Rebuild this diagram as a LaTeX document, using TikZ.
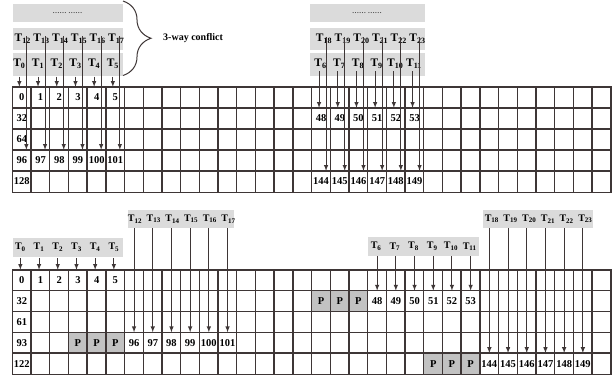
\documentclass[tikz,border=0pt]{standalone}
\usepackage{fontspec}
\setmainfont{Liberation Serif}
\usepackage{tikz}
\usetikzlibrary{arrows, decorations.pathreplacing, positioning}

\definecolor{fond}{gray}{0.86}
\definecolor{remplissage}{gray}{0.76}
\definecolor{trait}{RGB}{62,54,54}

\tikzset{
  case/.style={minimum width=18.7pt, minimum height=#1, inner sep=0pt},
  grille/.style={draw=trait, line width=1.4pt, line cap=rect},
  nombre/.style={font=\fontsize{10.5}{12}\selectfont\bfseries, inner sep=0pt},
  tgrand/.style={font=\fontsize{11.5}{13}\selectfont\bfseries, inner sep=0pt, minimum height=22pt},
  tpetit/.style={font=\fontsize{10}{12}\selectfont\bfseries, inner sep=0pt, minimum height=#1},
  points/.style={font=\fontsize{7}{8}\selectfont\bfseries, text=black!75, inner sep=0pt},
  fleche/.style={-latex, draw=trait, line width=1pt},
}

\begin{document}
\begin{tikzpicture}[x=1pt, y=-1pt]
        % Fond
        \fill[white] (0,0) rectangle (616,376);

        % Cases des deux grilles (h = haut, b = bas)
        \foreach \r in {0,...,4}
          \foreach \c in {0,...,31} {
            \node[case=21pt] (h-\r-\c) at ({21.85+18.7*\c}, {97.5+21*\r}) {};
            \node[case=20.8pt] (b-\r-\c) at ({21.85+18.7*\c}, {280.4+20.8*\r}) {};
          }
        % Remplissage P
        \foreach \r/\c in {1/16,1/17,1/18,3/3,3/4,3/5,4/22,4/23,4/24} {
          \fill[remplissage] (b-\r-\c.north west) rectangle (b-\r-\c.south east);
          \node[nombre] at (b-\r-\c) {P};
        }
        % Traits de la grille
        \foreach \g in {h,b} {
          \foreach \c in {0,...,31} \draw[grille] (\g-0-\c.north west) -- (\g-4-\c.south west);
          \draw[grille] (\g-0-31.north east) -- (\g-4-31.south east);
          \foreach \r in {0,...,4} \draw[grille] (\g-\r-0.north west) -- (\g-\r-31.north east);
          \draw[grille] (\g-4-0.south west) -- (\g-4-31.south east);
        }

        % Contenu des cases
        \foreach \r/\t in {1/32,2/64,4/128} \node[nombre] at (h-\r-0) {\t};
        \foreach \r/\t in {1/32,2/61,3/93,4/122} \node[nombre] at (b-\r-0) {\t};
        \foreach \c in {0,...,5} {
          \pgfmathtruncatemacro\colh{16+\c}
          \pgfmathtruncatemacro\colj{19+\c}
          \pgfmathtruncatemacro\colk{6+\c}
          \pgfmathtruncatemacro\coll{25+\c}
          \pgfmathtruncatemacro\numa{48+\c}
          \pgfmathtruncatemacro\numb{96+\c}
          \pgfmathtruncatemacro\numc{144+\c}
          \node[nombre] at (h-0-\c) {\c};
          \node[nombre] at (h-1-\colh) {\numa};
          \node[nombre] at (h-3-\c) {\numb};
          \node[nombre] at (h-4-\colh) {\numc};
          \node[nombre] at (b-0-\c) {\c};
          \node[nombre] at (b-1-\colj) {\numa};
          \node[nombre] at (b-3-\colk) {\numb};
          \node[nombre] at (b-4-\coll) {\numc};
        }

        % Boites des threads
        \fill[fond] (12.5,3.5) rectangle (122.5,22);
        \fill[fond] (12.5,28) rectangle (122.5,50);
        \fill[fond] (12.5,53) rectangle (122.5,75.5);
        \fill[fond] (310,3.5) rectangle (424.5,22);
        \fill[fond] (310,28) rectangle (424.5,50);
        \fill[fond] (310,53) rectangle (424.5,75.5);
        \fill[fond] (12.5,238) rectangle (122.5,256.5);
        \fill[fond] (128,210) rectangle (233.5,228);
        \fill[fond] (368,237) rectangle (478.5,256);
        \fill[fond] (482.5,210) rectangle (593,228);
        \node[points] (p1) at (67.5,13) {…… ……};
        \node[points] (p2) at (367,13) {…… ……};

        % Threads et acces memoire
        \foreach \c in {0,...,5} {
          \pgfmathtruncatemacro\ta{12+\c}
          \pgfmathtruncatemacro\tb{18+\c}
          \pgfmathtruncatemacro\tc{6+\c}
          \pgfmathtruncatemacro\colh{16+\c}
          \pgfmathtruncatemacro\colj{19+\c}
          \pgfmathtruncatemacro\colk{6+\c}
          \pgfmathtruncatemacro\coll{25+\c}
          % haut
          \node[tgrand, xshift=-2.5pt] (hT\c) at (h-0-\c |- 0,64) {T\textsubscript{\c}};
          \node[tgrand, xshift=1pt] (hT\ta) at (h-0-\c |- 0,39) {T\textsubscript{\ta}};
          \node[tgrand, xshift=-0.5pt] (hT\tc) at (h-0-\colh |- 0,64) {T\textsubscript{\tc}};
          \node[tgrand, xshift=3pt] (hT\tb) at (h-0-\colh |- 0,39) {T\textsubscript{\tb}};
          \draw[fleche] ([yshift=-1.5pt]hT\c.south) -- ([xshift=-2.5pt]h-0-\c.north);
          \draw[fleche] ([xshift=3.5pt, yshift=3pt]hT\ta.center) -- ([xshift=4.5pt]h-3-\c.north);
          \draw[fleche] ([xshift=-1.5pt, yshift=4pt]hT\tc.south) -- ([xshift=-2pt]h-1-\colh.north);
          \draw[fleche] ([xshift=2pt, yshift=2pt]hT\tb.center) -- ([xshift=5pt]h-4-\colh.north);
          % bas
          \node[tpetit=18.5pt, xshift=-1.5pt] (bT\c) at (b-0-\c |- 0,247.25) {T\textsubscript{\c}};
          \node[tpetit=18pt, xshift=1pt] (bT\ta) at (b-0-\colk |- 0,219) {T\textsubscript{\ta}};
          \node[tpetit=19pt, xshift=-1pt] (bT\tc) at (b-0-\colj |- 0,246.5) {T\textsubscript{\tc}};
          \node[tpetit=18pt, xshift=2.5pt] (bT\tb) at (b-0-\coll |- 0,219) {T\textsubscript{\tb}};
          \draw[fleche] ([yshift=-1.5pt]bT\c.south) -- ([xshift=-1.5pt]b-0-\c.north);
          \draw[fleche] ([xshift=-1pt]bT\ta.south) -- (b-3-\colk.north);
          \draw[fleche] ([xshift=1pt]bT\tc.south) -- (b-1-\colj.north);
          \draw[fleche] ([xshift=-2.5pt]bT\tb.south) -- (b-4-\coll.north);
        }

        % Accolade
        \draw[decorate, decoration={brace, amplitude=28pt}, trait, line width=1pt] (123,1) -- (123,75.5);
        \coordinate (pointe) at (151,38);
        \node[font=\fontsize{10}{12}\selectfont\bfseries, inner sep=0pt, right=12pt of pointe] (conflit) {3-way conflict};
    \end{tikzpicture}
\end{document}
